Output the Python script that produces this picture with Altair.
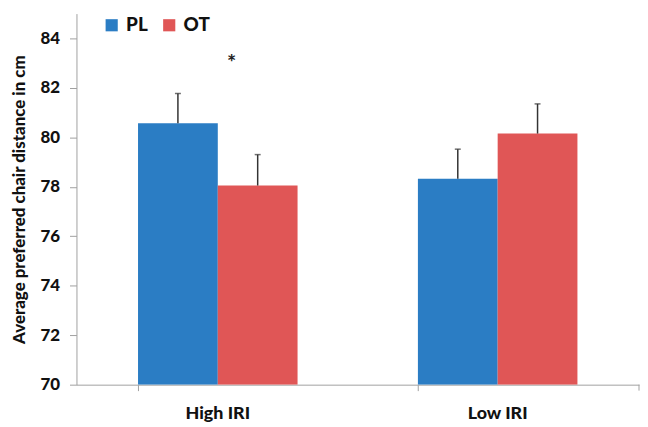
import altair as alt
import pandas as pd

groups = ["High IRI", "High IRI", "Low IRI", "Low IRI"]
series = ["PL", "OT", "PL", "OT"]
means = [80.57, 78.05, 78.32, 80.15]
errs = [1.2, 1.25, 1.2, 1.2]

star_group = ["High IRI"]
star_value = [83.25]
star_text = ["*"]

df = pd.DataFrame({"group": groups, "series": series, "mean": means, "err": errs})
df["top"] = df["mean"] + df["err"]
stars = pd.DataFrame({"group": star_group, "value": star_value, "label": star_text})

FONT = "Lato"
AXC = "#a0a0a0"
x = alt.X("group:N", title=None, sort=["High IRI", "Low IRI"],
          scale=alt.Scale(paddingInner=0.43, paddingOuter=0.22),
          axis=alt.Axis(labelAngle=0, labelFont=FONT, labelFontSize=18, labelFontWeight=900,
                        labelColor="#111", labelPadding=14, domainColor=AXC, tickColor=AXC,
                        tickSize=6, bandPosition=0, ticks=True))
xo = alt.XOffset("series:N", sort=["PL", "OT"])
yscale = alt.Scale(domain=[70, 85], nice=False, zero=False)
color = alt.Color("series:N", sort=["PL", "OT"],
                  scale=alt.Scale(domain=["PL", "OT"], range=["#2B7DC4", "#E05656"]),
                  legend=alt.Legend(title=None, orient="none", direction="horizontal",
                                    legendX=26, legendY=2, symbolType="square", symbolSize=150,
                                    symbolStrokeWidth=0, labelFont=FONT, labelFontSize=19,
                                    labelFontWeight=900, labelColor="#111", columnPadding=12,
                                    labelOffset=5))

bars = alt.Chart(df).mark_bar(clip=True).encode(
    x=x, xOffset=xo,
    y=alt.Y("mean:Q", scale=yscale, title="Average preferred  chair distance in cm",
            axis=alt.Axis(values=[70, 72, 74, 76, 78, 80, 82, 84], grid=False, labelFont=FONT,
                          labelFontSize=17, labelFontWeight=900, labelColor="#111",
                          domainColor=AXC, tickColor=AXC, tickSize=7, labelPadding=10,
                          titleFont=FONT, titleFontSize=17, titleFontWeight=900,
                          titleColor="#111", titlePadding=12)),
    y2=alt.Y2(datum=70),
    color=color,
)

rules = alt.Chart(df).mark_rule(color="#333", strokeWidth=1.5).encode(
    x=x, xOffset=xo, y=alt.Y("mean:Q", scale=yscale), y2="top:Q")
caps = alt.Chart(df).mark_tick(color="#333", thickness=1.5, size=6).encode(
    x=x, xOffset=xo, y=alt.Y("top:Q", scale=yscale))

star = alt.Chart(stars).mark_text(font=FONT, fontSize=22, fontWeight="bold", color="#222", dx=14,
                                  dy=6, baseline="middle").encode(
    x=x, y=alt.Y("value:Q", scale=yscale), text="label:N")

end_tick = alt.Chart(stars).mark_rule(color=AXC, strokeWidth=1).encode(
    x=alt.value(567), y=alt.value(374), y2=alt.value(380))

chart = alt.layer(bars, rules, caps, star, end_tick).properties(
    width=567, height=374, padding={"left": 2, "top": 4, "right": 0, "bottom": 0},
    background="white"
).configure_view(stroke=None)

chart.save("out.html", embed_options={"renderer": "svg", "actions": False})
